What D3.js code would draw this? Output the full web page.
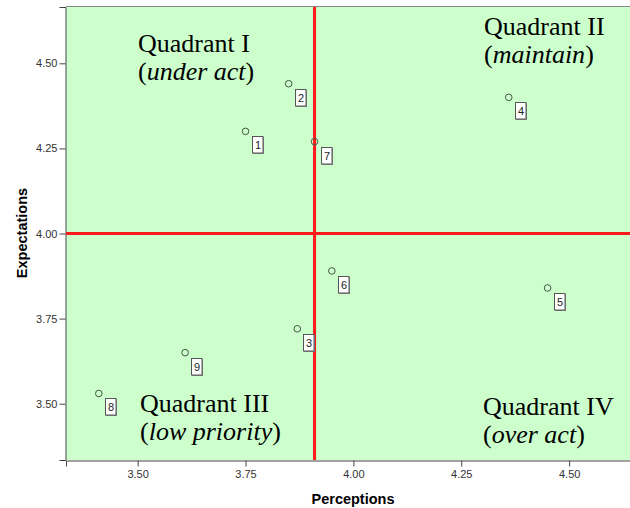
<!DOCTYPE html>
<html>
<head>
<meta charset="utf-8">
<script src="https://cdn.jsdelivr.net/npm/d3@7"></script>
<style>
  html, body { margin: 0; padding: 0; background: #fff; }
  svg { display: block; }
</style>
</head>
<body>
<svg id="chart" width="630" height="508"></svg>
<script>
// ---- data ----
const ids          = ["1", "2", "3", "4", "5", "6", "7", "8", "9"];
const perceptions  = [3.75, 3.85, 3.87, 4.36, 4.45, 3.95, 3.91, 3.41, 3.61];
const expectations = [4.30, 4.44, 3.72, 4.40, 3.84, 3.89, 4.27, 3.53, 3.65];
const xTicks = [3.50, 3.75, 4.00, 4.25, 4.50];
const yTicks = [3.50, 3.75, 4.00, 4.25, 4.50];
const refX = 3.91;   // mean perception
const refY = 4.00;   // mean expectation
const quadrantTitles = ["Quadrant I", "Quadrant II", "Quadrant III", "Quadrant IV"];
const quadrantNotes  = ["under act", "maintain", "low priority", "over act"];
const xTitle = "Perceptions";
const yTitle = "Expectations";

// ---- layout ----
const plot = { left: 66, top: 7, right: 630, bottom: 460 };
const quadPos = [ {x: 138, y: 52}, {x: 484, y: 35}, {x: 140, y: 412}, {x: 483, y: 415} ];
const lineGap = 28;

const svg = d3.select("#chart");
const x = d3.scaleLinear().domain([3.334, 4.641]).range([plot.left, plot.right]);
const y = d3.scaleLinear().domain([3.3346, 4.6654]).range([plot.bottom, plot.top]);

// background
svg.append("rect")
  .attr("x", plot.left).attr("y", plot.top)
  .attr("width", plot.right - plot.left).attr("height", plot.bottom - plot.top)
  .attr("fill", "#ccffcc");
// top border
svg.append("line")
  .attr("x1", plot.left).attr("x2", plot.right)
  .attr("y1", plot.top - 0.5).attr("y2", plot.top - 0.5)
  .attr("stroke", "#8a8a8a").attr("stroke-width", 1);

// axes
const fmt = d3.format(".2f");
const yAxis = svg.append("g")
  .attr("transform", `translate(${plot.left - 0.5},0)`)
  .call(d3.axisLeft(y).tickValues(yTicks).tickFormat(fmt).tickSizeOuter(0).tickSize(6).tickPadding(2));
const xAxis = svg.append("g")
  .attr("transform", `translate(0,${plot.bottom + 0.5})`)
  .call(d3.axisBottom(x).tickValues(xTicks).tickFormat(fmt).tickSizeOuter(0).tickSize(6).tickPadding(4));
[xAxis, yAxis].forEach(g => {
  g.select(".domain").attr("stroke", "#444");
  g.selectAll(".tick line").attr("stroke", "#444");
  g.selectAll(".tick text")
    .attr("fill", "#333")
    .style("font-family", "'Liberation Sans', Arial, sans-serif")
    .style("font-size", "11px");
});

// reference lines
svg.append("line")
  .attr("x1", x(refX)).attr("x2", x(refX))
  .attr("y1", plot.top).attr("y2", plot.bottom)
  .attr("stroke", "#ff1a1a").attr("stroke-width", 3);
svg.append("line")
  .attr("x1", plot.left).attr("x2", plot.right)
  .attr("y1", y(refY)).attr("y2", y(refY))
  .attr("stroke", "#ff1a1a").attr("stroke-width", 3);

// points
const pts = ids.map((id, i) => ({ id, px: perceptions[i], ey: expectations[i] }));
svg.append("g").selectAll("circle").data(pts).join("circle")
  .attr("cx", d => x(d.px)).attr("cy", d => y(d.ey))
  .attr("r", 3.3)
  .attr("fill", "none")
  .attr("stroke", "#445544").attr("stroke-width", 1);

// label boxes
const lab = svg.append("g").selectAll("g").data(pts).join("g")
  .attr("transform", d => `translate(${Math.round(x(d.px)) + 6},${Math.round(y(d.ey)) + 5})`);
lab.append("rect")
  .attr("x", 1).attr("y", 1).attr("width", 11).attr("height", 17)
  .attr("fill", "#888");
lab.append("rect")
  .attr("x", 0.5).attr("y", 0.5).attr("width", 10.5).attr("height", 16.5)
  .attr("fill", "#fff").attr("stroke", "#555").attr("stroke-width", 1);
lab.append("text")
  .attr("x", 6).attr("y", 13)
  .attr("text-anchor", "middle")
  .attr("fill", "#222")
  .style("font-family", "'Liberation Sans', Arial, sans-serif")
  .style("font-size", "11px")
  .text(d => d.id);

// quadrant labels
quadrantTitles.forEach((t, i) => {
  const g = svg.append("g")
    .style("font-family", "'Liberation Serif', 'Times New Roman', serif")
    .style("font-size", "26px")
    .attr("fill", "#000");
  g.append("text").attr("x", quadPos[i].x).attr("y", quadPos[i].y).text(t);
  const t2 = g.append("text").attr("x", quadPos[i].x).attr("y", quadPos[i].y + lineGap);
  t2.append("tspan").text("(");
  t2.append("tspan").style("font-style", "italic").text(quadrantNotes[i]);
  t2.append("tspan").text(")");
});

// axis titles
svg.append("text")
  .attr("x", 353).attr("y", 504)
  .attr("text-anchor", "middle")
  .style("font-family", "'Liberation Sans', Arial, sans-serif")
  .style("font-weight", "bold").style("font-size", "14.5px")
  .text(xTitle);
svg.append("text")
  .attr("transform", "translate(27,233) rotate(-90)")
  .attr("text-anchor", "middle")
  .style("font-family", "'Liberation Sans', Arial, sans-serif")
  .style("font-weight", "bold").style("font-size", "14.5px")
  .text(yTitle);
</script>
</body>
</html>
